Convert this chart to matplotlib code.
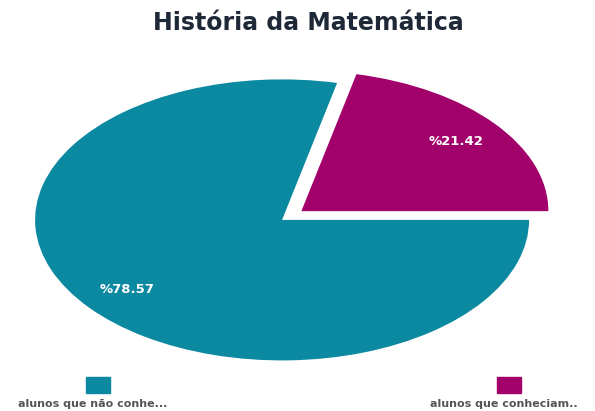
import matplotlib.pyplot as plt
from matplotlib.patches import Rectangle

# Data
categories = ['alunos que conheciam..', 'alunos que não conhe...']
values = [21.42, 78.57]
colors = ['#a2006b', '#0b89a1']
explode = [0.1, 0.0]

title = 'História da Matemática'


def pct_label(p):
    # show the stored value, with the percent sign in front
    return '%' + '{:.2f}'.format(p * sum(values) / 100)


def main():
    fig = plt.figure(figsize=(5.95, 4.11), dpi=100)
    ax = fig.add_axes([0, 0, 1, 1])

    wedges, texts, autotexts = ax.pie(values, colors=colors, explode=explode,
                                      startangle=0, counterclock=True,
                                      autopct=pct_label, pctdistance=0.8,
                                      textprops={'color': 'white',
                                                 'fontsize': 9.5,
                                                 'fontweight': 'bold'})
    ax.set_aspect('auto')
    ax.set_xlim(-1.142, 1.267)
    ax.set_ylim(-1.36, 1.565)
    ax.axis('off')

    fig.text(0.519, 0.945, title, ha='center', va='center', fontsize=17,
             fontweight='bold', color='#1e2836')

    # legend: colour square with the label underneath
    legend_x = [0.856, 0.165]
    for name, col, lx in zip(categories, colors, legend_x):
        fig.add_artist(Rectangle((lx - 0.02, 0.045), 0.04, 0.037,
                                 transform=fig.transFigure, color=col))
        fig.text(lx - 0.01, 0.018, name, ha='center', va='center',
                 fontsize=8, fontweight='bold', color='#555555')

    fig.savefig('out.png', dpi=100)


if __name__ == '__main__':
    main()
